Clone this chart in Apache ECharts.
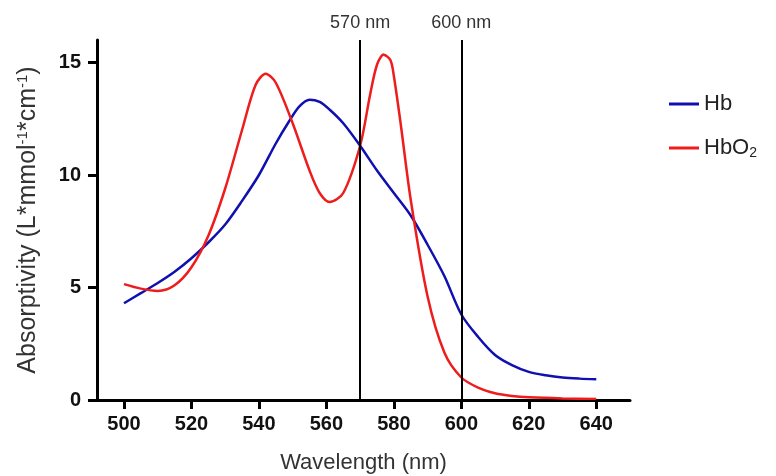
<!DOCTYPE html>
<html>
<head>
<meta charset="utf-8">
<script src="https://cdn.jsdelivr.net/npm/echarts@6/dist/echarts.min.js"></script>
<style>
  html, body { margin: 0; padding: 0; background: #fff; }
  #chart { width: 776px; height: 476px; }
</style>
</head>
<body>
<div id="chart"></div>
<script>
// wavelength (nm) / absorptivity pairs
const hbWave = [500, 505, 510, 515, 520, 525, 530, 535, 540, 545, 549, 552, 555, 558, 561, 565, 570, 575, 580, 585, 590, 595, 600, 605, 610, 615, 620, 625, 630, 635, 640];
const hbValues = [4.3, 4.75, 5.2, 5.7, 6.3, 7.0, 7.8, 8.85, 10.0, 11.4, 12.4, 13.05, 13.35, 13.25, 12.9, 12.3, 11.3, 10.2, 9.2, 8.2, 6.9, 5.5, 3.8, 2.8, 2.0, 1.55, 1.25, 1.1, 1.0, 0.95, 0.92];

const hbo2Wave = [500, 505, 510, 515, 520, 525, 530, 535, 539, 542, 545, 550, 555, 558, 561, 565, 570, 573, 575, 577, 579, 580, 582, 585, 590, 595, 600, 605, 610, 615, 620, 630, 640];
const hbo2Values = [5.15, 4.95, 4.85, 5.1, 5.9, 7.3, 9.4, 12.0, 14.0, 14.5, 14.1, 12.3, 10.2, 9.2, 8.8, 9.2, 11.3, 13.6, 14.9, 15.35, 15.1, 14.4, 12.3, 8.9, 4.6, 2.1, 1.0, 0.55, 0.3, 0.18, 0.12, 0.07, 0.05];

const xTicks = [500, 520, 540, 560, 580, 600, 620, 640];
const yTicks = [0, 5, 10, 15];
const markerLines = [570, 600];

const chart = echarts.init(document.getElementById('chart'));

const axisFont = { fontFamily: 'Liberation Sans, Arial, sans-serif' };

chart.setOption({
  animation: false,
  backgroundColor: '#fff',
  grid: { left: 97, right: 146, top: 40, bottom: 76, outerBoundsMode: 'none' },
  legend: {
    orient: 'vertical',
    left: 664,
    top: 88,
    itemWidth: 30,
    itemHeight: 3,
    itemGap: 22,
    icon: 'rect',
    data: [
      { name: 'Hb', itemStyle: { color: '#1010b0' } },
      { name: 'HbO2', itemStyle: { color: '#ee1c1c' } }
    ],
    formatter: name => name === 'HbO2' ? '{t|HbO}{s|2}' : '{t|' + name + '}',
    textStyle: {
      ...axisFont,
      fontSize: 22,
      color: '#222',
      rich: {
        t: { ...axisFont, fontSize: 22, color: '#222' },
        s: { ...axisFont, fontSize: 14, color: '#222', verticalAlign: 'bottom', padding: [10, 0, 0, 0] }
      }
    }
  },
  xAxis: {
    type: 'value',
    min: 492,
    max: 650,
    name: 'Wavelength (nm)',
    nameLocation: 'middle',
    nameGap: 52,
    nameTextStyle: { ...axisFont, fontSize: 22, color: '#333' },
    axisLine: { onZero: false, lineStyle: { color: '#000', width: 3 } },
    axisTick: { show: true, customValues: xTicks, length: 9, lineStyle: { color: '#000', width: 3 } },
    axisLabel: { customValues: xTicks, fontFamily: axisFont.fontFamily, fontSize: 20, fontWeight: 'bold', color: '#111', margin: 14 },
    splitLine: { show: false }
  },
  yAxis: {
    type: 'value',
    min: 0,
    max: 16,
    name: '{t|Absorptivity (L*mmol}{s|-1}{t|*cm}{s|-1}{t|)}',
    nameLocation: 'middle',
    nameGap: 56,
    nameRotate: 90,
    nameTextStyle: {
      rich: {
        t: { ...axisFont, fontSize: 25, color: '#333' },
        s: { ...axisFont, fontSize: 15, color: '#333', verticalAlign: 'top', padding: [0, 0, 11, 0] }
      }
    },
    axisLine: { show: true, lineStyle: { color: '#000', width: 3 } },
    axisTick: { show: true, customValues: yTicks, length: 9, lineStyle: { color: '#000', width: 3 } },
    axisLabel: { customValues: yTicks, fontFamily: axisFont.fontFamily, fontSize: 20, fontWeight: 'bold', color: '#111', margin: 16 },
    splitLine: { show: false }
  },
  series: [
    {
      name: 'Hb',
      type: 'line',
      smooth: 0.3,
      showSymbol: false,
      lineStyle: { color: '#1010b0', width: 2.5 },
      itemStyle: { color: '#1010b0' },
      data: hbWave.map((w, i) => [w, hbValues[i]]),
      markLine: {
        silent: true,
        symbol: 'none',
        lineStyle: { color: '#000', width: 2, type: 'solid' },
        label: {
          position: 'end',
          formatter: p => p.value + ' nm',
          fontFamily: axisFont.fontFamily,
          fontSize: 18,
          color: '#333',
          distance: 8
        },
        data: markerLines.map(v => ({ xAxis: v }))
      }
    },
    {
      name: 'HbO2',
      type: 'line',
      smooth: 0.3,
      showSymbol: false,
      lineStyle: { color: '#ee1c1c', width: 2.5 },
      itemStyle: { color: '#ee1c1c' },
      data: hbo2Wave.map((w, i) => [w, hbo2Values[i]])
    }
  ]
});
</script>
</body>
</html>
